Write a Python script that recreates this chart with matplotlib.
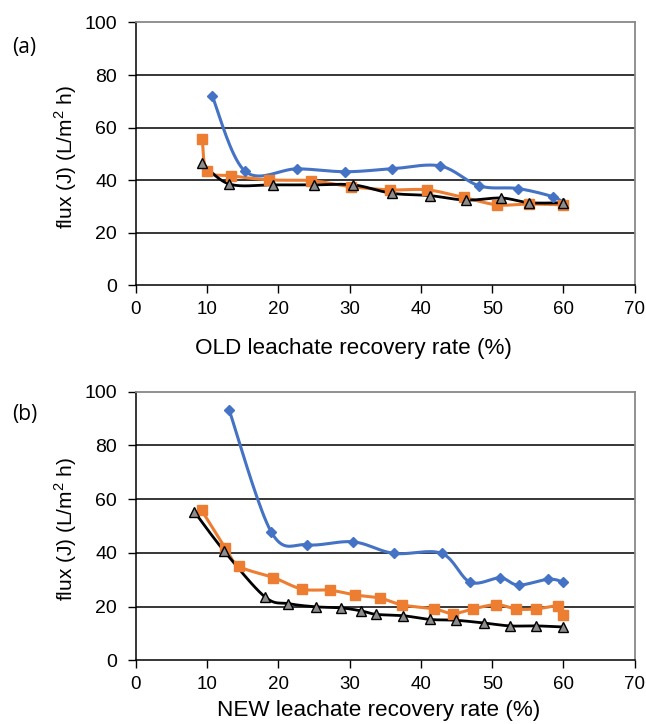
import matplotlib.pyplot as plt
import numpy as np

# Panel (a): OLD leachate
old_blue_x = [10.7, 15.3, 22.6, 29.4, 35.9, 42.7, 48.2, 53.6, 58.5, 60.0]
old_blue_y = [72.0, 43.4, 44.3, 43.2, 44.3, 45.4, 37.8, 36.8, 33.7, 31.2]
old_orange_x = [9.3, 10.0, 13.3, 18.7, 24.6, 30.2, 35.7, 40.9, 46.0, 50.7, 55.1, 60.0]
old_orange_y = [55.7, 43.4, 41.7, 40.1, 39.8, 37.5, 36.3, 36.3, 33.4, 30.6, 30.9, 30.6]
old_black_x = [9.3, 13.1, 19.2, 25.0, 30.5, 35.9, 41.3, 46.3, 51.3, 55.2, 60.0]
old_black_y = [46.4, 38.5, 38.2, 38.2, 38.2, 35.0, 34.1, 32.4, 33.2, 31.4, 31.4]

# Panel (b): NEW leachate
new_blue_x = [13.1, 19.0, 24.0, 30.5, 36.2, 42.9, 46.9, 51.1, 53.7, 57.9, 60.0]
new_blue_y = [93.0, 47.7, 43.0, 44.1, 39.8, 39.8, 29.1, 30.7, 28.0, 30.2, 29.1]
new_orange_x = [9.2, 12.5, 14.5, 19.3, 23.3, 27.2, 30.8, 34.2, 37.4, 41.9, 44.5, 47.3, 50.6, 53.4, 56.1, 59.2, 60.0]
new_orange_y = [55.9, 41.9, 35.0, 30.8, 26.5, 26.1, 24.3, 23.2, 20.6, 19.1, 17.4, 19.1, 20.7, 19.1, 19.1, 20.1, 16.9]
new_black_x = [8.2, 12.4, 18.1, 21.4, 25.3, 28.8, 31.6, 33.7, 37.5, 41.3, 44.9, 48.8, 52.5, 56.2, 60.0]
new_black_y = [55.3, 40.6, 23.6, 21.1, 19.9, 19.5, 18.4, 17.1, 16.6, 15.2, 14.9, 13.9, 12.8, 12.8, 12.4]

x_ticks = [0, 10, 20, 30, 40, 50, 60, 70]
y_ticks = [0, 20, 40, 60, 80, 100]


# smooth line like Excel's "smoothed line" (Catmull-Rom through the points)
def smooth(x, y, n=20):
    x = np.asarray(x, float)
    y = np.asarray(y, float)
    px = np.concatenate([[x[0]], x, [x[-1]]])
    py = np.concatenate([[y[0]], y, [y[-1]]])
    xs, ys = [], []
    t = np.linspace(0, 1, n)
    for i in range(1, len(px) - 2):
        for p, out in ((px, xs), (py, ys)):
            p0, p1, p2, p3 = p[i - 1], p[i], p[i + 1], p[i + 2]
            m1 = (p2 - p0) / 2
            m2 = (p3 - p1) / 2
            h00 = 2 * t**3 - 3 * t**2 + 1
            h10 = t**3 - 2 * t**2 + t
            h01 = -2 * t**3 + 3 * t**2
            h11 = t**3 - t**2
            out.append(h00 * p1 + h10 * m1 + h01 * p2 + h11 * m2)
    return np.concatenate(xs), np.concatenate(ys)


def draw_series(ax, x, y, color, marker, ms, mfc, mec, lw):
    sx, sy = smooth(x, y)
    ax.plot(sx, sy, color=color, lw=lw, zorder=3)
    ax.plot(x, y, ls='none', marker=marker, ms=ms, mfc=mfc, mec=mec, mew=1, zorder=4)


def setup(ax, xlabel, panel, xlab_pos, panel_y):
    ax.set_xlim(0, 70)
    ax.set_ylim(0, 100)
    ax.set_xticks(x_ticks)
    ax.set_yticks(y_ticks)
    for v in y_ticks[1:-1]:
        ax.axhline(v, color='black', lw=1.1, zorder=1)
    for s in ['top', 'right']:
        ax.spines[s].set_color('#888888')
        ax.spines[s].set_linewidth(1.3)
    for s in ['left', 'bottom']:
        ax.spines[s].set_linewidth(1.1)
    ax.tick_params(direction='out', length=5.5, width=1)
    ax.tick_params(axis='y', pad=8, labelsize=14)
    ax.tick_params(axis='x', pad=6, labelsize=13.5)
    for lab in ax.get_xticklabels() + ax.get_yticklabels():
        lab.set_family('Liberation Sans')
    ax.set_xlabel(xlabel, family='Liberation Sans', fontsize=16.2)
    ax.xaxis.set_label_coords(*xlab_pos)
    ax.set_ylabel('flux (J) (L/m$^2$ h)', family='Liberation Sans', fontsize=15)
    ax.yaxis.set_label_coords(-0.115, 0.49)
    ax.text(-0.248, panel_y, panel, transform=ax.transAxes, family='Open Sans', fontsize=15,
            va='center')


plt.rcParams['mathtext.fontset'] = 'custom'
plt.rcParams['mathtext.rm'] = 'Liberation Sans'

fig = plt.figure(figsize=(6.46, 7.24), dpi=100)
ax1 = fig.add_axes([0.2105, 0.606, 0.772, 0.363])
ax2 = fig.add_axes([0.2105, 0.088, 0.772, 0.371])

blue = '#4472C4'
orange = '#ED7D31'

draw_series(ax1, old_blue_x, old_blue_y, blue, 'D', 5.5, blue, blue, 2.2)
draw_series(ax1, old_orange_x, old_orange_y, orange, 's', 6.5, orange, orange, 2.2)
draw_series(ax1, old_black_x, old_black_y, 'black', '^', 7, '#8c8c8c', 'black', 2.0)
setup(ax1, 'OLD leachate recovery rate (%)', '(a)', (0.436, -0.2), 0.905)

draw_series(ax2, new_blue_x, new_blue_y, blue, 'D', 5.5, blue, blue, 2.2)
draw_series(ax2, new_orange_x, new_orange_y, orange, 's', 6.5, orange, orange, 2.2)
draw_series(ax2, new_black_x, new_black_y, 'black', '^', 7, '#8c8c8c', 'black', 2.0)
setup(ax2, 'NEW leachate recovery rate (%)', '(b)', (0.487, -0.148), 0.914)

fig.savefig('out.png', dpi=100)
